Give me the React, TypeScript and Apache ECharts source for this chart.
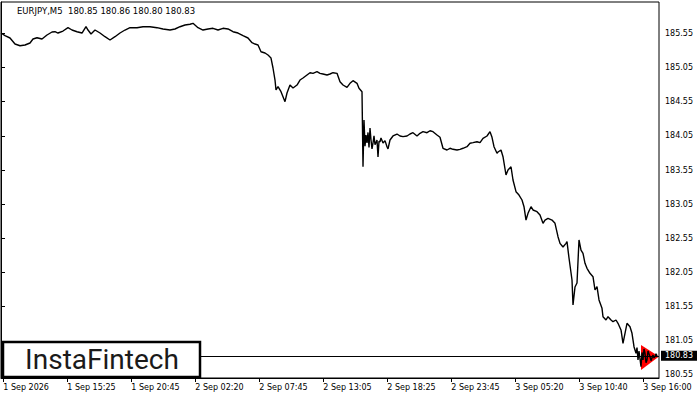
import React, { useEffect, useRef } from 'react';
import * as echarts from 'echarts';

const titleText = 'EURJPY,M5  180.85 180.86 180.80 180.83';
const logoText = 'InstaFintech';

const xTickLabels = [
  '1 Sep 2026', '1 Sep 15:25', '1 Sep 20:45', '2 Sep 02:20', '2 Sep 07:45', '2 Sep 13:05',
  '2 Sep 18:25', '2 Sep 23:45', '3 Sep 05:20', '3 Sep 10:40', '3 Sep 16:00',
];
const xTickBars = [2.3, 66.3, 130.3, 194.3, 258.3, 322.3, 386.3, 450.3, 514.3, 578.3, 642.3];
const yTicks = [180.55, 181.05, 181.55, 182.05, 182.55, 183.05, 183.55, 184.05, 184.55, 185.05, 185.55];

const barIndex = [
  0, 4, 9, 14, 19, 24, 29, 32, 36, 41, 46, 51, 54, 57, 62, 67, 71, 76, 81, 85, 87, 90, 94, 99,
  104, 109, 114, 119, 124, 129, 136, 142, 149, 156, 162, 169, 174, 179, 184, 189, 192, 197, 202,
  207, 212, 217, 222, 227, 232, 237, 242, 247, 251, 254, 257, 260, 264, 267, 270, 272, 274, 275,
  277, 280, 282, 284, 286, 289, 292, 296, 299, 302, 306, 309, 312, 316, 319, 322, 326, 329, 332,
  336, 339, 342, 346, 349, 352, 356, 358, 361, 362, 363, 364, 365, 366, 367, 368, 369, 370, 371,
  372, 373, 374, 376, 377, 378, 379, 380, 382, 384, 386, 387, 389, 392, 396, 399, 402, 406, 409,
  412, 416, 419, 422, 426, 429, 432, 436, 439, 442,
  446, 449, 452, 456, 459, 462, 466, 469, 472, 476, 479, 482, 486, 489, 491, 493, 496, 497, 500,
  502, 505, 507, 510, 512, 515, 518, 521, 523, 525, 527, 530, 532, 536, 539, 542, 544, 547, 551,
  554, 557, 559, 562, 565, 566, 568, 571, 572, 574, 576, 578, 580, 582, 584, 586, 589, 592, 594,
  596, 598, 601, 602, 605, 607, 610, 612, 615, 617, 620, 622, 624, 626, 629, 631, 633, 635, 636,
  637, 638, 640, 641, 642, 643, 644, 645, 646, 647, 649, 650, 652, 653, 654, 655, 656,
];
const closePrices = [
  185.555, 185.516, 185.482, 185.394, 185.369, 185.38, 185.409, 185.467, 185.486, 185.467, 185.526,
  185.57, 185.574, 185.555, 185.584, 185.633, 185.599, 185.574, 185.555, 185.647, 185.599, 185.541,
  185.599, 185.555, 185.501, 185.453, 185.501, 185.555, 185.599, 185.633, 185.633, 185.647, 185.647,
  185.633, 185.614, 185.599, 185.614, 185.647, 185.672, 185.683, 185.697, 185.633, 185.599, 185.614,
  185.624, 185.599, 185.624, 185.614, 185.574, 185.555, 185.516, 185.482, 185.413, 185.394, 185.38,
  185.281, 185.262, 185.233, 185.189, 185.043, 184.867, 184.721, 184.769, 184.696, 184.623, 184.55,
  184.677, 184.794, 184.75, 184.794, 184.867, 184.897, 184.941, 184.974, 184.965, 184.989, 184.965,
  184.955, 184.941, 184.955, 184.974, 184.965, 184.842, 184.794, 184.76, 184.819, 184.857, 184.819,
  184.746, 184.696, 183.598, 184.282, 183.9, 184.06, 183.945, 184.1, 183.88, 184.165, 183.989, 183.86,
  183.945, 184.05, 183.92, 183.989, 183.74, 183.97, 183.964, 184.02, 183.945, 183.98, 183.891, 183.86,
  183.989, 184.048, 184.077, 184.048, 184.038, 184.048, 184.077,
  184.096, 184.048, 184.087, 184.111, 184.096, 184.125, 184.111, 184.062, 184.029, 183.868,
  183.843, 183.868, 183.853, 183.843, 183.853, 183.868, 183.891, 183.941, 183.95, 183.964, 183.95,
  184.014, 184.048, 184.111, 184.029, 183.891, 183.795, 183.814, 183.843,
  183.745, 183.477, 183.55, 183.598, 183.404, 183.233, 183.184, 183.111, 183.013, 182.818, 182.916,
  183.013, 182.965, 182.94, 182.892, 182.77, 182.818, 182.843, 182.818,
  182.77, 182.574, 182.477, 182.423, 182.477, 182.501, 182.262, 181.94, 181.574, 181.838, 181.896,
  182.526, 182.379, 182.331, 182.185, 182.112, 182.038, 181.989, 181.794,
  181.842, 181.648, 181.526, 181.403, 181.355, 181.403, 181.355, 181.33, 181.355, 181.307, 181.209,
  181.014, 181.16, 181.307, 181.257, 181.16, 180.964, 180.868, 180.95,
  180.77, 180.9, 180.671, 180.88, 180.77, 180.93, 180.868, 180.73, 180.77, 180.9, 180.818, 180.76,
  180.843, 180.8, 180.818, 180.86, 180.83,
];
const lastPrice = 180.83;
const patternBars = [640, 658, 640];
const patternPrices = [180.989, 180.82, 180.623];

const axisFont = 'DejaVu Sans';

export default function App() {
  const ref = useRef<HTMLDivElement>(null);
  useEffect(() => {
    if (!ref.current) return;
    const chart = echarts.init(ref.current, null, { renderer: 'svg' });
    const lineData = barIndex.map((b, i) => [b, closePrices[i]]);
    chart.setOption({
      animation: false,
      backgroundColor: '#ffffff',
      grid: {
        left: 1, top: 2, right: 41, bottom: 22,
        show: true, borderColor: '#000', borderWidth: 1, backgroundColor: 'transparent',
      },
      xAxis: {
        type: 'value', min: 0, max: 658,
        axisLine: { show: true, lineStyle: { color: '#000', width: 1 } },
        axisTick: { show: true, length: 4, lineStyle: { color: '#000' }, customValues: xTickBars },
        axisLabel: {
          show: true, customValues: xTickBars, align: 'left', margin: 5,
          color: '#000', fontFamily: axisFont, fontSize: 8,
          formatter: (v: number) => {
            const i = xTickBars.findIndex((t) => Math.abs(t - v) < 0.01);
            return i >= 0 ? xTickLabels[i] : '';
          },
        },
        splitLine: { show: false },
      },
      yAxis: {
        type: 'value', position: 'right', min: 180.506, max: 186.009,
        axisLine: { show: true, lineStyle: { color: '#000', width: 1 } },
        axisTick: { show: true, length: 4, lineStyle: { color: '#000' }, customValues: yTicks },
        axisLabel: {
          show: true, customValues: yTicks, margin: 6,
          color: '#000', fontFamily: axisFont, fontSize: 8,
          formatter: (v: number) => v.toFixed(2),
        },
        splitLine: { show: false },
      },
      series: [
        {
          type: 'custom',
          data: [[patternBars[0], patternPrices[0]]],
          z: 1,
          renderItem: (_params: any, api: any) => ({
            type: 'polygon',
            shape: { points: patternBars.map((b, i) => api.coord([b, patternPrices[i]])) },
            style: { fill: '#ff0000' },
          }),
        },
        {
          type: 'line',
          data: lineData,
          z: 3,
          showSymbol: false,
          symbol: 'none',
          lineStyle: { color: '#000', width: 1.4 },
          markLine: {
            silent: true,
            symbol: 'none',
            lineStyle: { color: '#000', width: 1, type: 'solid' },
            label: {
              show: true, position: 'end', formatter: lastPrice.toFixed(2), distance: 2,
              color: '#fff', backgroundColor: '#000', padding: [1, 4, 0, 4],
              fontFamily: axisFont, fontSize: 8, lineHeight: 9,
            },
            data: [{ yAxis: lastPrice }],
          },
        },
      ],
      graphic: [
        {
          type: 'text', left: 17, top: 6, z: 10,
          style: { text: titleText, fill: '#000', font: `8.5px "${axisFont}"` },
        },
        {
          type: 'rect', z: 20,
          shape: { x: 3, y: 342, width: 197, height: 35 },
          style: { fill: '#fff', stroke: '#000', lineWidth: 2.5 },
        },
        {
          type: 'text', z: 21,
          style: {
            text: logoText, x: 102, y: 359, align: 'center', verticalAlign: 'middle',
            fill: '#1a1a1a', font: '28px Roboto',
          },
        },
      ],
    });
    return () => chart.dispose();
  }, []);
  return <div ref={ref} style={{ position: 'absolute', left: 0, top: 0, width: 700, height: 400 }} />;
}
